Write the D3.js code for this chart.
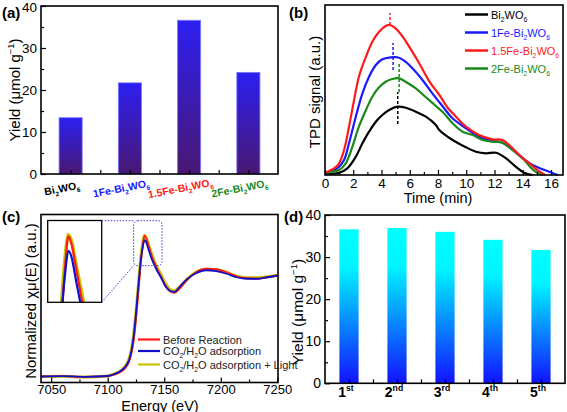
<!DOCTYPE html>
<html><head><meta charset="utf-8">
<script src="https://cdn.jsdelivr.net/npm/d3@7"></script>
<style>body{margin:0;background:#fff}svg{display:block;font-family:"Liberation Sans",Arial,sans-serif}</style>
</head><body>
<svg id="c" width="567" height="412"></svg>
<script>
// ---------- DATA ----------
// (a)
const catsA = ["Bi2WO6", "1Fe-Bi2WO6", "1.5Fe-Bi2WO6", "2Fe-Bi2WO6"];
const yieldA = [13.4, 21.7, 36.6, 24.2];
const catColorsA = ["#000000", "#1a1aff", "#ff1a1a", "#1a8a1a"];
const yTicksA = [0, 10, 20, 30, 40];
// (b) TPD curves
const tBi = [0, 1.0, 1.58, 2.18, 2.65, 3.12, 3.6, 4.06, 4.54, 5.13, 5.72, 6.43, 7.14, 7.85, 8.09, 9.03, 9.98, 10.69, 11.4, 12.1, 12.82, 13.5, 14.1, 14.7];
const sBi = [1, 2.3, 6.7, 18.3, 31.7, 43.3, 53.3, 60, 65, 68.3, 67.3, 63.3, 58.3, 50, 45, 35, 27.7, 23.3, 21.7, 22.3, 16.7, 8.3, 2.3, 0];
const t1Fe = [0, 0.87, 1.35, 1.7, 2.18, 2.65, 3.12, 3.6, 4.06, 4.66, 5.13, 5.6, 6.19, 6.9, 7.6, 8.2, 9.03, 9.98, 10.9, 11.87, 12.57, 13.28, 14.0, 14.7, 15.4, 16.1, 16.5];
const s1Fe = [2, 6.7, 15, 31.7, 58.3, 81.7, 98.3, 110, 115.7, 117.7, 117.7, 114.3, 106.7, 95, 81.7, 71, 56.7, 46.7, 38.3, 34.3, 32.3, 25, 16.7, 10, 5.7, 2, 0];
const t15Fe = [0, 0.64, 1.0, 1.35, 1.7, 2.06, 2.4, 2.9, 3.35, 3.83, 4.3, 4.6, 5.0, 5.5, 5.96, 6.67, 7.4, 8.1, 8.7, 9.03, 9.98, 10.9, 11.87, 12.57, 13.2, 13.76, 14.47, 15.2, 15.6];
const s15Fe = [2.5, 6.7, 11.7, 25, 48.3, 75, 98.3, 118.3, 133.3, 143.3, 149, 150, 146.7, 138.3, 128.3, 111.7, 93.3, 80, 67, 62, 48.3, 40, 35.7, 35, 27.7, 20, 11.7, 3.3, 0];
const t2Fe = [0, 1.0, 1.47, 1.94, 2.4, 2.9, 3.35, 3.83, 4.3, 4.77, 5.25, 5.7, 6.43, 7.1, 7.85, 8.4, 9.03, 9.74, 10.45, 11.16, 11.87, 12.57, 13.28, 14.0, 14.47, 14.9, 15.4];
const s2Fe = [2.5, 5, 11.7, 28.3, 48.3, 65, 78.3, 87.7, 93.3, 96, 96.7, 93.3, 86.7, 78.3, 69, 62, 51.7, 43.3, 40, 35, 33.3, 32.3, 25, 16.7, 9, 3.3, 0];
const peakT = [5.15, 4.82, 4.6, 5.25];          // dashed peak markers (Bi, 1Fe, 1.5Fe, 2Fe)
const peakLo = [51, 105, 150, 83];
const peakHi = [83, 132, 162, 111];
const seriesB = ["Bi2WO6", "1Fe-Bi2WO6", "1.5Fe-Bi2WO6", "2Fe-Bi2WO6"];
const colorsB = ["#000000", "#1a1aff", "#ff1a1a", "#1a8a1a"];
const xTicksB = [0, 2, 4, 6, 8, 10, 12, 14, 16];
// (c) XANES
const energyC = [7041, 7060, 7080, 7100, 7106, 7112, 7116, 7119, 7121, 7123, 7125, 7127, 7129, 7131, 7132.5, 7134, 7136, 7139, 7143, 7147, 7151, 7155, 7159, 7164, 7170, 7178, 7187, 7196, 7205, 7214, 7223, 7232, 7241, 7250];
const muBefore = [0, 0.003, -0.004, 0.004, 0.02, 0.05, 0.09, 0.15, 0.23, 0.36, 0.57, 0.83, 1.1, 1.31, 1.405, 1.38, 1.31, 1.2, 1.09, 1.0, 0.91, 0.85, 0.835, 0.88, 0.96, 1.04, 1.075, 1.07, 1.04, 1.0, 0.98, 0.975, 0.99, 1.01];
const muAds = [0, 0.004, -0.003, 0.005, 0.025, 0.06, 0.105, 0.17, 0.26, 0.41, 0.63, 0.89, 1.13, 1.29, 1.36, 1.34, 1.27, 1.17, 1.07, 0.99, 0.9, 0.855, 0.845, 0.9, 0.97, 1.03, 1.06, 1.05, 1.025, 0.99, 0.975, 0.975, 0.99, 1.005];
const muLight = [0, 0.002, -0.005, 0.005, 0.025, 0.06, 0.11, 0.18, 0.27, 0.42, 0.64, 0.9, 1.16, 1.34, 1.41, 1.39, 1.32, 1.22, 1.1, 1.02, 0.93, 0.87, 0.855, 0.9, 0.97, 1.04, 1.07, 1.065, 1.04, 1.0, 0.985, 0.985, 0.995, 1.01];
const labelsC = ["Before Reaction", "CO2/H2O adsorption", "CO2/H2O adsorption + Light"];
const colorsC = ["#ff1a1a", "#1010c8", "#c8c400"];
const xTicksC = [7050, 7100, 7150, 7200, 7250];
// (d)
const catsD = ["1st", "2nd", "3rd", "4th", "5th"];
const yieldD = [36.6, 36.9, 36.0, 34.1, 31.7];
const yTicksD = [0, 10, 20, 30, 40];

// ---------- HELPERS ----------
const svg = d3.select("#c");
const FONT = '"Liberation Sans",Arial,sans-serif';
function rich(t, parts, fs) {
  let shift = 0;
  parts.forEach(([s, k]) => {
    const target = k === "sub" ? fs * 0.3 : k === "sup" ? -fs * 0.4 : 0;
    t.append("tspan").attr("dy", target - shift).attr("font-size", k ? fs * 0.62 : fs).text(s);
    shift = target;
  });
}
function chem(name) {
  const m = name.match(/^(.*Bi)2(WO)6$/);
  if (m) return [[m[1], ""], ["2", "sub"], [m[2], ""], ["6", "sub"]];
  return [[name, ""]];
}
function frame(x0, y0, x1, y1) {
  svg.append("rect").attr("x", x0).attr("y", y0).attr("width", x1 - x0).attr("height", y1 - y0)
    .attr("fill", "none").attr("stroke", "#000").attr("stroke-width", 1.6);
}
function ticksY(x, scale, vals, size, labels, fs) {
  const g = svg.append("g").attr("transform", `translate(${x},0)`);
  const ax = d3.axisLeft(scale).tickValues(vals).tickSizeInner(-size).tickSizeOuter(0).tickPadding(4);
  if (!labels) ax.tickFormat("");
  g.call(ax);
  g.select(".domain").remove();
  g.selectAll("line").attr("stroke", "#000").attr("stroke-width", 1.2);
  g.selectAll("text").attr("font-size", fs || 13.5).attr("font-family", FONT).attr("fill", "#000");
  return g;
}
function ticksX(y, scale, vals, size, labels, fs, pad) {
  const g = svg.append("g").attr("transform", `translate(0,${y})`);
  const ax = d3.axisBottom(scale).tickValues(vals).tickSizeInner(-size).tickSizeOuter(0).tickPadding(pad == null ? 3 : pad).tickFormat(d3.format("d"));
  if (!labels) ax.tickFormat("");
  g.call(ax);
  g.select(".domain").remove();
  g.selectAll("line").attr("stroke", "#000").attr("stroke-width", 1.2);
  g.selectAll("text").attr("font-size", fs || 13.5).attr("font-family", FONT).attr("fill", "#000");
  return g;
}
function panelLabel(x, y, s) {
  svg.append("text").attr("x", x).attr("y", y).attr("font-size", 15).attr("font-weight", "bold").text(s);
}
function yieldLabel(x, cy, fs) {
  const t = svg.append("text").attr("transform", `translate(${x},${cy}) rotate(-90)`)
    .attr("text-anchor", "middle").attr("font-size", fs);
  rich(t, [["Yield (\u03bcmol g", ""], ["\u22121", "sup"], [")", ""]], fs);
}

const defs = svg.append("defs");
const gA = defs.append("linearGradient").attr("id", "gradA").attr("x1", 0).attr("y1", 0).attr("x2", 0).attr("y2", 1);
gA.append("stop").attr("offset", 0).attr("stop-color", "#2c1ff2");
gA.append("stop").attr("offset", 1).attr("stop-color", "#4a1872");
const gD = defs.append("linearGradient").attr("id", "gradD").attr("x1", 0).attr("y1", 0).attr("x2", 0).attr("y2", 1);
gD.append("stop").attr("offset", 0).attr("stop-color", "#00ffff");
gD.append("stop").attr("offset", 0.25).attr("stop-color", "#00f4ff");
gD.append("stop").attr("offset", 1).attr("stop-color", "#1212ff");

// ---------- (a) ----------
{
  const L = 41, R = 278, T = 6, B = 174;
  const x = d3.scaleBand().domain(catsA).range([L, R]).paddingInner(0.61).paddingOuter(0.305);
  const y = d3.scaleLinear().domain([0, 40]).range([B, T]);
  svg.append("g").selectAll("rect").data(catsA).join("rect")
    .attr("x", d => x(d)).attr("width", x.bandwidth())
    .attr("y", (d, i) => y(yieldA[i])).attr("height", (d, i) => B - y(yieldA[i]))
    .attr("fill", "url(#gradA)").attr("stroke", "#7a7aff").attr("stroke-width", 0.8);
  const ga = ticksY(L, y, yTicksA, 5, true);
  ga.selectAll("text").filter(d => d === 40).attr("dy", "0.4em");
  ticksY(L, y, [5, 15, 25, 35], 3, false);
  const mids = catsA.map(d => x(d) + x.bandwidth() / 2);
  const lin = d3.scaleLinear().domain([0, 1]).range([0, 1]);
  const tickPos = [];
  mids.forEach((m, i) => { tickPos.push(m); if (i < mids.length - 1) tickPos.push((m + mids[i + 1]) / 2); });
  ticksX(B, lin, tickPos, 4, false);
  frame(L, T, R, B);
  catsA.forEach((c, i) => {
    const cx = x(c) + x.bandwidth() / 2 - 8;
    const t = svg.append("text").attr("transform", `translate(${cx},192) rotate(-11)`)
      .attr("text-anchor", "middle").attr("font-weight", "bold").attr("fill", catColorsA[i]).attr("font-size", 10.5);
    rich(t, chem(c), 10.5);
  });
  yieldLabel(20, 90, 15);
  panelLabel(2, 18, "(a)");
}

// ---------- (b) ----------
{
  const L = 325, R = 563, T = 5, B = 175;
  const x = d3.scaleLinear().domain([0, 16.85]).range([L, R]);
  const y = d3.scaleLinear().domain([0, 170]).range([B, T]);
  const line = d3.line().x(d => x(d[0])).y(d => y(d[1])).curve(d3.curveCatmullRom.alpha(0.5));
  const sets = [[tBi, sBi], [t1Fe, s1Fe], [t15Fe, s15Fe], [t2Fe, s2Fe]];
  const order = [0, 1, 3, 2];
  order.forEach(i => {
    const pts = sets[i][0].map((t, k) => [t, sets[i][1][k]]);
    svg.append("path").attr("d", line(pts)).attr("fill", "none").attr("stroke", colorsB[i]).attr("stroke-width", 2.2);
  });
  peakT.forEach((t, i) => {
    svg.append("line").attr("x1", x(t)).attr("x2", x(t)).attr("y1", y(peakLo[i])).attr("y2", y(peakHi[i]))
      .attr("stroke", colorsB[i]).attr("stroke-width", 1.5).attr("stroke-dasharray", "3,2");
  });
  ticksX(B, x, xTicksB, 5, true, 13.5);
  ticksX(B, x, d3.range(1, 17, 2), 3, false);
  frame(L, T, R, B);
  svg.append("text").attr("x", 438).attr("y", 203).attr("text-anchor", "middle").attr("font-size", 14.5).text("Time (min)");
  svg.append("text").attr("transform", "translate(320,92) rotate(-90)").attr("text-anchor", "middle").attr("font-size", 15).text("TPD signal (a.u.)");
  seriesB.forEach((s, i) => {
    const yy = 14.5 + i * 18;
    svg.append("line").attr("x1", 465).attr("x2", 488).attr("y1", yy).attr("y2", yy).attr("stroke", colorsB[i]).attr("stroke-width", 2.5);
    const t = svg.append("text").attr("x", 491).attr("y", yy + 4).attr("font-size", 11).attr("fill", colorsB[i]);
    rich(t, chem(s), 11);
  });
  panelLabel(289, 18, "(b)");
}

// ---------- (c) ----------
{
  const L = 41, R = 278, T = 214.5, B = 382.5;
  const x = d3.scaleLinear().domain([7041, 7250.6]).range([L, R]);
  const y = d3.scaleLinear().domain([-0.06, 1.616]).range([B, T]);
  const seriesC = [muBefore, muAds, muLight];
  const drawOrder = [2, 0, 1];
  const widths = [1.8, 1.8, 3];
  const line = d3.line().x(d => x(d[0])).y(d => y(d[1])).curve(d3.curveMonotoneX);
  drawOrder.forEach(i => {
    svg.append("path").attr("d", line(energyC.map((e, k) => [e, seriesC[i][k]])))
      .attr("fill", "none").attr("stroke", colorsC[i]).attr("stroke-width", widths[i]);
  });
  // inset
  const iL = 47.7, iR = 101.7, iT = 220.5, iB = 302.3;
  const xi = d3.scaleLinear().domain([7122.9, 7148]).range([iL, iR]);
  const yi = d3.scaleLinear().domain([1.2, 1.454]).range([iB, iT]);
  defs.append("clipPath").attr("id", "clipI").append("rect").attr("x", iL).attr("y", iT).attr("width", iR - iL).attr("height", iB - iT);
  svg.append("rect").attr("x", iL).attr("y", iT).attr("width", iR - iL).attr("height", iB - iT).attr("fill", "#fff");
  const gi = svg.append("g").attr("clip-path", "url(#clipI)");
  const lineI = d3.line().x(d => xi(d[0])).y(d => yi(d[1])).curve(d3.curveMonotoneX);
  [2, 0, 1].forEach(i => {
    gi.append("path").attr("d", lineI(energyC.map((e, k) => [e, seriesC[i][k]])))
      .attr("fill", "none").attr("stroke", colorsC[i]).attr("stroke-width", i === 2 ? 3.5 : 2.2);
  });
  svg.append("rect").attr("x", iL).attr("y", iT).attr("width", iR - iL).attr("height", iB - iT)
    .attr("fill", "none").attr("stroke", "#000").attr("stroke-width", 1.3);
  const zx0 = x(7122.9), zx1 = x(7148), zy0 = 220.7, zy1 = 265.7;
  svg.append("rect").attr("x", zx0).attr("y", zy0).attr("width", zx1 - zx0).attr("height", zy1 - zy0).attr("rx", 4)
    .attr("fill", "none").attr("stroke", "#3a3ae0").attr("stroke-width", 1).attr("stroke-dasharray", "1.5,1.5");
  svg.append("line").attr("x1", iR).attr("y1", zy0).attr("x2", zx0).attr("y2", zy0)
    .attr("stroke", "#3a3ae0").attr("stroke-width", 1).attr("stroke-dasharray", "1.5,1.5");
  svg.append("line").attr("x1", iR).attr("y1", iB).attr("x2", zx0).attr("y2", zy1)
    .attr("stroke", "#3a3ae0").attr("stroke-width", 1).attr("stroke-dasharray", "1.5,1.5");
  ticksX(B, x, xTicksC, 5, true, 13, 2);
  ticksX(B, x, [7075, 7125, 7175, 7225], 3, false);
  frame(L, T, R, B);
  svg.append("text").attr("x", 160).attr("y", 410.5).attr("text-anchor", "middle").attr("font-size", 14.5).text("Energy (eV)");
  svg.append("text").attr("transform", "translate(36,301) rotate(-90)").attr("text-anchor", "middle").attr("font-size", 15)
    .text("Normalized \u03c7\u03bc(E) (a.u.)");
  const legParts = [[["Before Reaction", ""]],
    [["CO", ""], ["2", "sub"], ["/H", ""], ["2", "sub"], ["O adsorption", ""]],
    [["CO", ""], ["2", "sub"], ["/H", ""], ["2", "sub"], ["O adsorption + Light", ""]]];
  [339.5, 351, 364.5].forEach((yy, i) => {
    svg.append("line").attr("x1", 138).attr("x2", 160).attr("y1", yy).attr("y2", yy).attr("stroke", colorsC[i]).attr("stroke-width", 2.2);
    const t = svg.append("text").attr("x", 163).attr("y", yy + 4).attr("font-size", 11).attr("fill", "#222");
    rich(t, legParts[i], 11);
  });
  panelLabel(2, 222, "(c)");
}

// ---------- (d) ----------
{
  const L = 325, R = 565, T = 215, B = 383.3;
  const x = d3.scaleBand().domain(catsD).range([L, R]).paddingInner(0.6).paddingOuter(0.3);
  const y = d3.scaleLinear().domain([0, 40]).range([B, T]);
  svg.append("g").selectAll("rect").data(catsD).join("rect")
    .attr("x", d => x(d)).attr("width", x.bandwidth())
    .attr("y", (d, i) => y(yieldD[i])).attr("height", (d, i) => B - y(yieldD[i]))
    .attr("fill", "url(#gradD)");
  ticksY(L, y, yTicksD, 5, true, 14);
  ticksY(L, y, [5, 15, 25, 35], 3, false);
  const mids = catsD.map(d => x(d) + x.bandwidth() / 2);
  const tickPos = [];
  mids.forEach((m, i) => { tickPos.push(m); if (i < mids.length - 1) tickPos.push((m + mids[i + 1]) / 2); });
  ticksX(B, d3.scaleLinear().domain([0, 1]).range([0, 1]), tickPos, 4, false);
  frame(L, T, R, B);
  catsD.forEach((c, i) => {
    const t = svg.append("text").attr("x", mids[i] - 3).attr("y", 397).attr("text-anchor", "middle")
      .attr("font-weight", "bold").attr("font-size", 14);
    rich(t, [[c[0], ""], [c.slice(1), "sup"]], 14);
  });
  yieldLabel(303, 312, 15.5);
  panelLabel(284, 222, "(d)");
}
</script>
</body></html>
